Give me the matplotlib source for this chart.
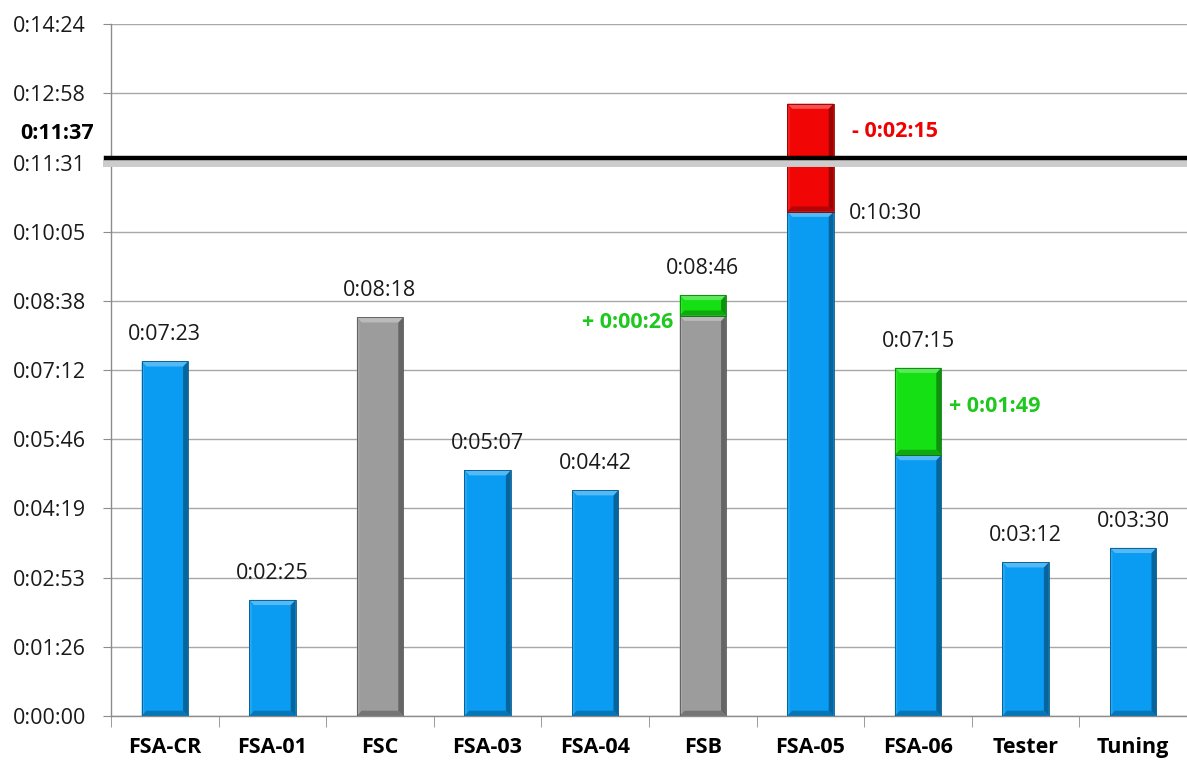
import matplotlib
matplotlib.use("Agg")
import matplotlib.pyplot as plt
from matplotlib.patches import Polygon, Rectangle
from matplotlib.colors import to_rgb
from matplotlib.ticker import FuncFormatter, FixedLocator
import numpy as np

plt.rcParams['font.family'] = ['Open Sans', 'DejaVu Sans']

# Durations in seconds
categories = ["FSA-CR", "FSA-01", "FSC", "FSA-03", "FSA-04", "FSB", "FSA-05", "FSA-06", "Tester", "Tuning"]
base_values = [443, 145, 498, 307, 282, 500, 630, 326, 192, 210]
base_kind = ["blue", "blue", "gray", "blue", "blue", "gray", "blue", "blue", "blue", "blue"]
delta_values = [0, 0, 0, 0, 0, 26, 135, 109, 0, 0]
delta_kind = [None, None, None, None, None, "green", "red", "green", None, None]
total_labels = ["0:07:23", "0:02:25", "0:08:18", "0:05:07", "0:04:42", "0:08:46", "0:10:30", "0:07:15", "0:03:12", "0:03:30"]
delta_labels = [None, None, None, None, None, "+ 0:00:26", "- 0:02:15", "+ 0:01:49", None, None]
target = 697          # 0:11:37
target_label = "0:11:37"
y_max = 864           # 0:14:24

palette = {"blue": "#0a9cf2", "gray": "#9c9c9c", "green": "#14e014", "red": "#f20505"}
text_col = {"green": "#1fc81f", "red": "#f00000"}

FS = 15.5


def fmt(s, _=None):
    s = int(round(s))
    return f"0:{s // 60:02d}:{s % 60:02d}"


def shade(c, f):
    r = np.array(to_rgb(c))
    if f >= 0:
        return tuple(r + (1 - r) * f)
    return tuple(r * (1 + f))


fig = plt.figure(figsize=(11.87, 7.6), dpi=100)
ax = fig.add_axes([0.0935, 0.058, 0.9065, 0.91])
ax.set_xlim(-0.5, len(categories) - 0.5)
ax.set_ylim(0, y_max)

W = 0.43
bx = 0.045   # bevel widths in data units
by = 6.5


def bevel_bar(x, y0, h, color):
    x0, x1 = x - W / 2, x + W / 2
    y1 = y0 + h
    ax.add_patch(Rectangle((x0, y0), W, h, facecolor=color, edgecolor="none", zorder=3))
    # right side, darker
    ax.add_patch(Polygon([(x1, y0), (x1, y1), (x1 - bx, y1 - by), (x1 - bx, y0 + (by if h > 3 * by else 0))],
                         closed=True, facecolor=shade(color, -0.35), edgecolor="none", zorder=4))
    # top face, lighter
    ax.add_patch(Polygon([(x0, y1), (x1, y1), (x1 - bx, y1 - by), (x0 + bx, y1 - by)],
                         closed=True, facecolor=shade(color, 0.3), edgecolor="none", zorder=4))
    # left side, slightly lighter
    ax.add_patch(Polygon([(x0, y0), (x0, y1), (x0 + bx * 0.5, y1 - by), (x0 + bx * 0.5, y0)],
                         closed=True, facecolor=shade(color, 0.12), edgecolor="none", zorder=4))
    if h > 3 * by:
        # bottom face, darker
        ax.add_patch(Polygon([(x0, y0), (x1, y0), (x1 - bx, y0 + by), (x0 + bx, y0 + by)],
                             closed=True, facecolor=shade(color, -0.25), edgecolor="none", zorder=4))
    ax.add_patch(Rectangle((x0, y0), W, h, facecolor="none", edgecolor=shade(color, -0.45),
                           linewidth=0.6, zorder=5))


xs = np.arange(len(categories))
for i, x in enumerate(xs):
    bevel_bar(x, 0, base_values[i], palette[base_kind[i]])
    if delta_values[i]:
        bevel_bar(x, base_values[i], delta_values[i], palette[delta_kind[i]])

# value labels
for i, x in enumerate(xs):
    top = base_values[i] + delta_values[i]
    if delta_kind[i] == "red":
        ax.text(x + W / 2 + 0.14, base_values[i] - 2, total_labels[i], ha="left", va="center",
                fontsize=FS, color="#1a1a1a", zorder=6)
        ax.text(x + W / 2 + 0.17, top - 35, delta_labels[i], ha="left", va="center",
                fontsize=FS, fontweight="bold", color=text_col["red"], zorder=6)
    else:
        ax.text(x, top + 20, total_labels[i], ha="center", va="bottom",
                fontsize=FS, color="#1a1a1a", zorder=6)
    if delta_kind[i] == "green":
        if categories[i] == "FSB":
            ax.text(x - W / 2 - 0.06, base_values[i] - 8, delta_labels[i], ha="right", va="center",
                    fontsize=FS, fontweight="bold", color=text_col["green"], zorder=6)
        else:
            ax.text(x + W / 2 + 0.07, base_values[i] + delta_values[i] * 0.55, delta_labels[i],
                    ha="left", va="center", fontsize=FS, fontweight="bold",
                    color=text_col["green"], zorder=6)

# target line with soft shadow
ax.axhline(target - 6, color="#cccccc", linewidth=5, zorder=6, xmin=-0.005, clip_on=False)
ax.axhline(target, color="black", linewidth=3.2, zorder=7, xmin=-0.005, clip_on=False)
ax.text(-0.016, target + 30, target_label, transform=ax.get_yaxis_transform(),
        ha="right", va="center", fontsize=FS, fontweight="bold", color="black")

# y axis
yticks = np.linspace(0, y_max, 11)
ax.yaxis.set_major_locator(FixedLocator(yticks))
ax.yaxis.set_major_formatter(FuncFormatter(fmt))
ax.grid(axis="y", color="#a8a8a8", linewidth=1.0, zorder=0)
ax.set_axisbelow(True)
ax.tick_params(axis="y", length=6, color="#8c8c8c", labelsize=FS, labelcolor="#1a1a1a", pad=12)

# x axis
ax.set_xticks(xs)
ax.set_xticklabels(categories, fontsize=FS, fontweight="bold", color="black")
ax.set_xticks(np.arange(-0.5, len(categories) + 0.5, 1), minor=True)
ax.tick_params(axis="x", which="major", length=0, pad=15)
ax.tick_params(axis="x", which="minor", length=8, color="#8c8c8c")

for side in ("top", "right"):
    ax.spines[side].set_visible(False)
for side in ("left", "bottom"):
    ax.spines[side].set_color("#8c8c8c")
    ax.spines[side].set_linewidth(1.0)

fig.savefig("out.png", dpi=100)
